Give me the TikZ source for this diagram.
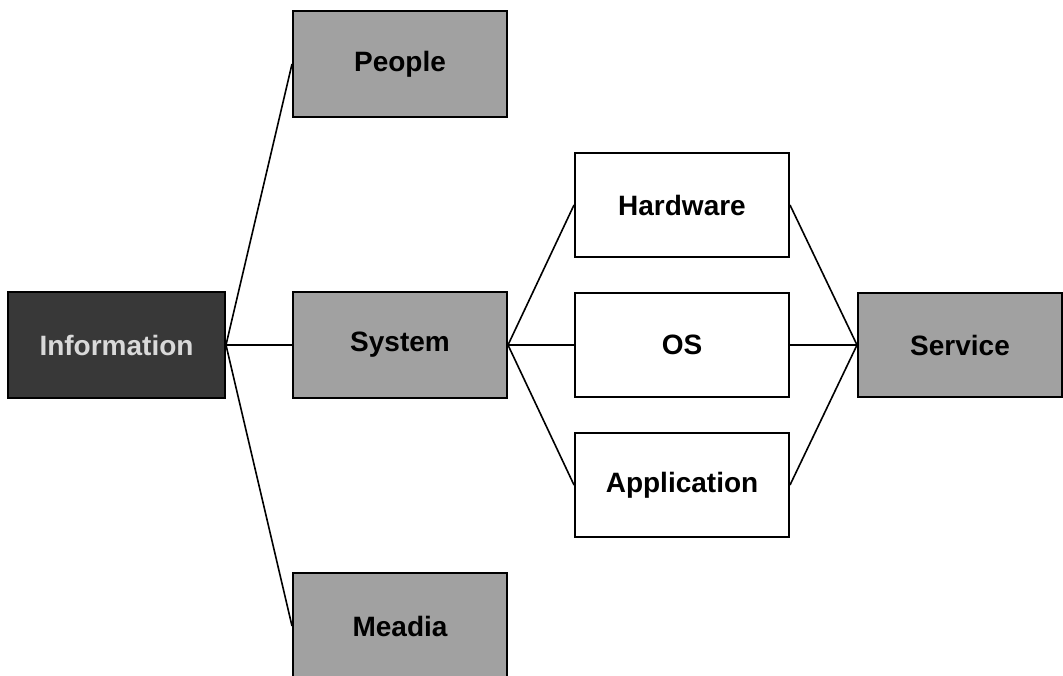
\documentclass[tikz,border=0pt]{standalone}
\usepackage{fontspec}
\setmainfont{Liberation Sans}
\begin{document}
\begin{tikzpicture}[x=0.5pt,y=-0.5pt,
  box/.style={draw=black,line width=1pt,rectangle,minimum width=107pt,minimum height=53pt,inner sep=0pt,font=\fontsize{14}{17}\selectfont\bfseries},
  graybox/.style={box,fill=black!37},
  darkbox/.style={box,fill=black!78,text=black!15},
  whitebox/.style={box,fill=white},
  link/.style={draw=black,line width=0.8pt}]
\useasboundingbox (0,0) rectangle (1063,675);
\clip (0,0) rectangle (1063,675);
\node[darkbox,minimum width=108.5pt] (info) at (116.5,345) {Information};
\node[graybox] (people) at (400,64) {People};
\node[graybox] (system) at (400,345) {System};
\node[graybox] (meadia) at (400,626) {Meadia};
\node[whitebox,minimum height=52pt] (hw) at (682,205) {Hardware};
\node[whitebox,minimum height=52pt] (os) at (682,345) {OS};
\node[whitebox,minimum height=52pt] (app) at (682,485) {Application};
\node[graybox,minimum width=102pt,minimum height=52pt] (service) at (960,345) {Service};
\draw[link] (info.east) -- (people.west);
\draw[link] (info.east) -- (system.west);
\draw[link] (info.east) -- (meadia.west);
\draw[link] (system.east) -- (hw.west);
\draw[link] (system.east) -- (os.west);
\draw[link] (system.east) -- (app.west);
\draw[link] (hw.east) -- (service.west);
\draw[link] (os.east) -- (service.west);
\draw[link] (app.east) -- (service.west);
\end{tikzpicture}
\end{document}
